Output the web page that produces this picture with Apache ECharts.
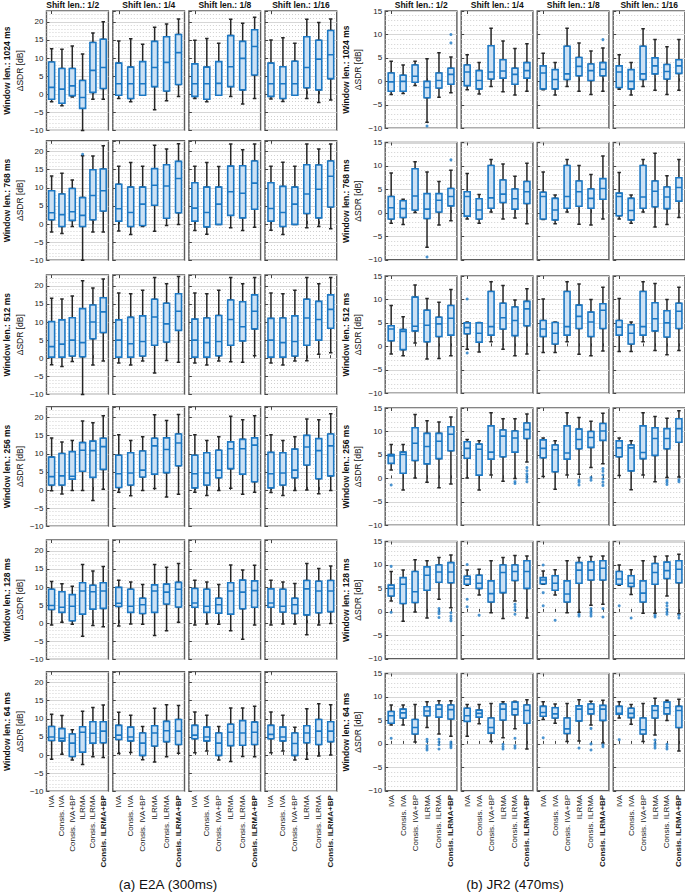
<!DOCTYPE html>
<html>
<head>
<meta charset="utf-8">
<script src="https://cdn.jsdelivr.net/npm/echarts@6/dist/echarts.min.js"></script>
<style>
html, body { margin: 0; padding: 0; background: #fff; }
#chart { width: 685px; height: 893px; }
</style>
</head>
<body>
<div id="chart"></div>
<script>
// box values: [min, q1, median, q3, max] per method, 4 shift lengths per window length
var methods = ['IVA', 'Consis. IVA', 'Consis. IVA+BP', 'ILRMA', 'Consis. ILRMA', 'Consis. ILRMA+BP'];
var shiftLens = ['1/2', '1/4', '1/8', '1/16'];
var windowLens = ['1024', '768', '512', '256', '128', '64'];

// (a) E2A
var e2a_w1024 = [
  [[-2.1,-1.4,1.9,8.9,12.6], [-3.2,-2.5,1.4,7.1,12.4], [-0.8,-0.4,2.3,7.1,13.3], [-10,-3.9,-0.9,3.8,11.1], [-1.4,0.5,6.6,14.3,16.9], [-1.4,1.6,7.4,15.2,20.0]],
  [[-1.2,-0.3,2.9,8.6,14.7], [-2.1,-1.2,2.9,7.5,15.3], [-0.3,-0.3,2.9,9.0,13.8], [-4.3,2.1,7.4,14.6,18.5], [-1.8,0.9,8.8,15.9,19.4], [-0.6,2.7,11.5,16.5,20.8]],
  [[-1.2,-0.6,2.9,8.4,14.9], [-2.1,-1.4,2.9,7.5,15.4], [-0.3,-0.3,3.0,9.0,14.1], [-0.6,2.1,7.6,16.2,20.7], [-2.7,1.2,9.9,14.6,19.6], [-1.2,5.3,13.2,17.8,21.3]],
  [[-1.3,-0.6,2.9,8.6,15.0], [-2.0,-1.2,2.9,7.6,15.6], [-0.3,-0.3,2.9,9.1,14.1], [-1.2,1.8,7.4,15.9,20.7], [-2.3,1.2,9.7,14.9,19.8], [-1.6,4.3,10.9,17.6,20.8]]
];
var e2a_w768 = [
  [[-2.2,1.2,3.1,9.2,13.3], [-2.6,-0.7,2.6,8.3,14.0], [-0.7,1.0,3.4,9.8,12.2], [-10,-0.7,2.4,7.3,18.9], [-2.2,1.2,7.9,15.0,18.8], [-2.2,3.6,9.2,15.2,21.6]],
  [[-1.9,0.8,4.2,11.0,16.0], [-2.9,-0.7,3.2,10.2,17.0], [-0.7,-0.4,5.5,10.2,16.0], [-2.0,5.2,10.7,15.3,21.8], [-0.4,1.6,10.5,16.4,20.7], [-0.1,3.1,12.6,17.3,22.2]],
  [[-1.8,0.8,4.4,11.4,16.0], [-2.8,-0.8,3.2,10.2,17.0], [-0.1,-0.1,5.5,10.2,15.9], [-1.0,2.4,8.9,16.0,22.1], [-1.8,1.7,8.5,16.1,20.5], [-0.9,4.1,11.3,17.4,22.1]],
  [[-1.7,0.8,4.3,11.4,16.0], [-2.9,-0.7,3.2,10.4,17.1], [-0.1,-0.1,5.5,10.2,16.0], [-1.0,2.9,8.3,16.4,22.1], [-0.7,1.7,9.6,16.3,20.7], [-1.3,4.7,13.2,17.4,22.1]]
];
var e2a_w512 = [
  [[-1.8,0.3,3.2,10.1,16.6], [-2.3,0.3,3.9,10.6,16.4], [-0.9,0.6,5.0,11.2,17.2], [-10,0.4,4.3,13.7,21.4], [-1.9,5.4,10.0,14.7,19.4], [-0.8,7.1,12.8,16.7,21.9]],
  [[-1.3,0.3,5.0,10.6,18.0], [-1.9,0.3,4.0,11.3,17.8], [-0.8,0.6,4.6,11.7,18.8], [-4.1,3.6,11.4,16.3,22.3], [-0.6,4.5,9.5,15.2,20.6], [-1.1,7.7,13.0,17.8,22.6]],
  [[-1.3,0.3,5.0,10.8,18.0], [-1.9,0.3,4.3,11.1,17.8], [-0.8,0.7,4.6,11.8,18.8], [-1.0,3.6,10.7,16.1,22.3], [-1.1,4.8,8.7,15.6,20.6], [0.7,8.1,13.0,17.5,22.3]],
  [[-1.3,0.3,5.0,11.0,18.0], [-1.9,0.3,4.3,11.1,17.8], [-0.8,0.6,4.6,11.7,18.8], [-0.7,3.6,11.1,16.3,22.3], [1.1,5.0,10.7,15.7,20.6], [1.5,8.3,13.5,17.5,22.3]]
];
var e2a_w256 = [
  [[-0.2,1.4,3.7,9.1,14.4], [-1.1,1.4,3.9,10.1,13.3], [-0.1,3.0,3.8,10.6,13.7], [-0.1,5.2,11.0,13.1,19.1], [-2.9,3.5,10.9,13.5,18.6], [0.2,5.7,12.0,14.3,20.5]],
  [[-0.6,0.7,4.5,9.6,15.3], [-1.6,1.4,4.7,10.3,13.7], [-0.1,3.6,5.5,10.8,14.7], [0.4,4.4,12.2,14.3,20.8], [-1.9,4.8,11.2,14.4,19.2], [-1.2,6.7,13.0,15.5,20.9]],
  [[-0.6,0.6,4.5,9.6,15.3], [-1.5,1.4,4.7,10.3,13.7], [-0.1,3.4,5.5,11.0,14.7], [0.5,5.9,11.4,13.3,20.4], [-1.2,4.4,11.4,14.0,19.4], [-0.6,2.3,12.4,14.4,20.5]],
  [[-0.7,0.6,4.5,10.4,15.3], [-1.5,1.4,4.7,10.3,13.7], [-0.1,3.4,5.5,11.3,14.7], [0.0,6.9,11.9,15.1,19.6], [-1.0,3.1,10.9,14.2,19.4], [-0.1,3.9,12.2,15.5,21.1]]
];
var e2a_w128 = [
  [[-0.5,3.8,4.9,9.4,11.5], [0.3,3.0,4.4,8.7,10.9], [-0.3,0.7,4.7,7.9,10.2], [-3.6,2.5,8.9,11.2,16.2], [-0.6,3.9,8.7,10.5,14.4], [-1.0,4.1,8.9,11.2,15.7]],
  [[-0.8,4.6,5.5,9.9,11.9], [-0.2,3.0,4.7,9.4,11.4], [-0.3,2.7,5.1,6.9,10.7], [-3.4,3.0,8.9,10.6,16.2], [-2.1,5.3,8.6,10.8,15.5], [0.3,4.5,9.4,11.3,16.5]],
  [[-0.5,4.4,5.6,9.6,11.9], [-0.2,3.0,4.7,9.4,11.4], [-0.3,2.8,5.1,6.9,10.7], [-2.1,2.5,8.9,11.2,16.1], [-4.4,4.0,8.6,11.9,14.7], [-0.5,4.4,9.0,11.7,16.0]],
  [[-0.5,4.4,5.6,9.5,11.9], [-0.2,3.1,4.7,9.4,11.4], [-0.2,2.7,5.1,6.9,11.0], [-3.2,2.3,9.5,11.8,16.5], [-0.5,2.9,8.9,11.6,15.1], [-0.1,3.2,8.9,11.8,15.8]]
];
var e2a_w64 = [
  [[-1.2,4.0,5.0,7.9,11.3], [0.2,3.9,4.6,7.3,10.9], [-1.4,-0.4,3.3,5.8,7.0], [-2.6,0.8,6.3,7.8,12.1], [-0.5,3.3,6.0,9.2,13.1], [-0.7,3.4,6.6,9.2,13.8]],
  [[0.4,4.3,5.5,8.2,11.8], [0.7,3.9,5.0,7.7,11.0], [-1.3,-0.1,3.3,6.1,7.9], [-1.9,2.5,6.1,8.1,12.9], [-0.5,3.7,6.7,9.3,13.9], [0.5,2.9,6.6,9.8,13.7]],
  [[0.6,4.5,5.5,8.2,11.9], [1.1,3.9,5.0,7.7,11.0], [-1.4,-0.1,3.3,6.1,7.9], [-1.8,2.6,6.3,8.5,13.0], [-0.4,2.7,6.1,9.5,13.0], [-0.5,2.9,6.3,9.1,13.5]],
  [[0.6,4.5,5.7,8.2,11.9], [1.1,3.9,5.0,7.7,11.0], [-1.4,-0.1,3.2,6.1,7.7], [-1.2,3.4,6.1,8.1,12.8], [-0.3,2.9,6.6,9.8,14.2], [0.0,3.7,6.6,9.2,13.9]]
];
// outliers: [window index, shift index, method index, value]
var e2aOutliers = [[1, 0, 3, 19.3]];

// (b) JR2
var jr2_w1024 = [
  [[-2.8,-2.1,-0.1,1.8,4.3], [-2.6,-2.1,0.0,1.3,3.5], [-0.9,-0.2,1.1,3.5,4.3], [-8.7,-3.5,-1.3,0.0,4.8], [-3.4,-1.4,0.2,1.8,6.1], [-2.4,-0.6,1.5,2.8,5.2]],
  [[-1.8,-0.9,2.0,3.5,5.7], [-2.7,-1.6,0.2,2.3,4.0], [-1.1,0.5,2.0,7.6,11.3], [-2.2,0.7,2.2,4.6,8.6], [-2.9,-0.6,1.5,2.8,7.0], [-2.1,0.7,2.3,4.0,8.0]],
  [[-1.8,-1.6,1.8,3.3,6.0], [-2.9,-1.6,0.4,2.5,4.0], [-1.1,0.4,1.6,7.5,11.3], [-2.1,1.2,3.2,5.1,8.2], [-2.8,0.2,2.3,3.7,6.5], [-2.1,1.2,2.6,4.0,7.1]],
  [[-1.7,-1.3,2.0,3.3,5.7], [-2.9,-1.6,0.0,2.5,4.0], [-1.1,0.4,1.6,7.5,11.2], [-1.9,1.6,3.3,5.0,8.9], [-2.8,0.5,2.1,3.6,7.4], [-1.9,1.7,3.3,4.6,8.9]]
];
var jr2_w768 = [
  [[-2.2,-1.3,1.1,3.5,8.5], [-2.5,-1.0,0.9,2.6,2.9], [0.1,0.6,3.6,9.4,10.9], [-7.3,-1.2,0.8,4.1,8.7], [-2.6,0.2,2.7,4.1,6.7], [-1.7,1.5,3.5,5.2,9.1]],
  [[-1.3,-0.7,3.5,4.5,8.4], [-2.2,-1.3,0.6,3.0,3.9], [0.2,1.0,3.2,10.1,11.4], [-1.3,2.2,4.0,7.0,10.4], [-1.1,0.8,3.0,5.1,7.8], [-2.3,2.0,4.5,6.7,10.6]],
  [[-1.4,-1.3,3.5,4.4,8.7], [-2.3,-1.5,0.6,3.1,3.8], [0.2,1.0,3.5,10.1,11.4], [-2.4,1.4,4.5,6.8,10.1], [-2.6,1.0,3.1,5.1,8.2], [-1.3,2.9,5.2,7.3,12.1]],
  [[-1.3,-0.6,3.5,4.2,8.6], [-2.2,-1.5,0.5,3.1,3.8], [0.2,1.0,3.4,10.1,11.4], [-3.0,1.3,4.6,6.8,12.7], [-2.5,0.9,3.4,5.5,7.9], [-1.0,2.5,5.4,7.5,11.4]]
];
var jr2_w512 = [
  [[-1.6,1.2,3.7,4.4,8.7], [-2.0,-0.7,3.2,3.6,6.3], [0.7,3.3,4.3,10.5,13.1], [-2.7,1.0,4.5,7.7,10.2], [-2.6,2.1,4.8,6.2,9.4], [-2.0,2.4,6.0,8.7,12.1]],
  [[-0.6,2.7,4.0,5.0,5.2], [-1.2,0.9,2.8,5.0,5.1], [1.0,2.4,4.2,11.7,13.8], [-0.6,3.7,6.1,9.2,13.0], [-2.0,2.3,5.5,8.4,9.9], [-1.6,4.4,8.0,9.6,12.3]],
  [[-1.3,2.1,3.7,5.5,10.1], [-1.3,0.5,2.8,5.1,5.2], [1.0,2.4,4.2,11.7,13.8], [-1.7,3.8,6.4,8.8,13.3], [-2.0,2.1,5.2,7.3,10.0], [-1.0,3.8,7.7,9.1,12.6]],
  [[-1.1,2.4,4.1,5.5,10.2], [-1.1,0.5,2.8,4.6,5.2], [1.0,2.4,4.2,11.7,13.8], [-0.9,3.3,5.9,9.3,13.4], [-1.8,2.0,5.0,7.6,10.0], [-0.9,3.8,7.5,9.2,12.6]]
];
var jr2_w256 = [
  [[1.8,3.2,4.8,5.1,7.2], [-2.5,1.1,5.1,5.6,7.2], [0.1,3.8,7.5,10.8,13.6], [-0.8,3.1,6.8,9.6,12.3], [-2.0,4.2,7.9,9.6,12.0], [-1.2,5.9,9.4,11.0,13.1]],
  [[0.1,4.3,6.4,7.8,8.3], [-2.5,0.7,6.2,7.3,8.0], [0.7,4.1,5.6,11.2,14.0], [-0.6,4.6,9.0,10.3,12.7], [0.0,5.6,8.6,10.1,12.7], [3.5,8.5,10.4,11.8,13.7]],
  [[0.4,4.4,6.4,8.2,8.6], [-2.3,1.4,6.1,7.1,8.0], [0.7,4.1,5.4,11.2,14.0], [0.9,6.3,8.3,10.5,13.0], [2.3,6.6,8.7,10.0,12.2], [3.1,8.1,10.1,11.7,13.9]],
  [[0.6,4.6,6.5,8.0,8.6], [-2.4,1.6,6.5,7.1,8.0], [0.7,4.2,5.5,11.2,14.0], [-0.7,4.9,8.5,10.8,13.2], [0.2,6.3,8.5,10.6,12.8], [0.3,7.7,10.6,12.7,14.4]]
];
var jr2_w128 = [
  [[2.3,3.4,5.0,5.7,8.6], [-2.0,1.8,5.9,7.3,8.9], [0.0,2.0,4.3,8.6,11.1], [-1.3,4.6,7.8,9.6,10.9], [2.7,6.3,8.5,10.0,11.6], [0.9,6.2,8.5,10.5,12.1]],
  [[5.7,5.9,7.0,7.6,8.9], [3.6,5.0,6.1,7.8,9.1], [-0.2,2.1,3.9,6.6,10.9], [-1.4,4.1,8.4,10.0,11.6], [2.3,6.7,8.6,10.0,12.0], [-1.3,5.0,8.6,10.9,11.9]],
  [[5.9,6.0,6.8,7.3,8.7], [3.6,4.6,6.1,7.7,9.0], [-0.2,2.1,3.8,6.6,10.9], [-0.1,6.1,8.9,10.5,11.6], [1.4,6.8,8.9,10.7,11.8], [1.6,6.8,9.3,10.9,11.9]],
  [[5.7,5.9,7.0,8.6,10.0], [3.7,5.4,6.1,7.7,9.0], [-0.3,2.1,4.0,6.6,10.9], [-0.3,5.9,8.4,10.3,11.8], [3.4,7.1,8.8,10.6,11.9], [-0.4,6.2,9.1,10.9,12.3]]
];
var jr2_w64 = [
  [[4.0,4.4,6.0,6.9,8.3], [4.0,5.5,6.6,7.4,8.3], [0.4,2.1,3.5,5.2,8.4], [3.5,6.0,7.0,7.9,9.0], [2.1,5.7,7.4,8.3,9.2], [1.6,5.3,7.3,8.3,9.2]],
  [[1.6,4.8,6.0,7.6,8.4], [4.3,5.7,6.5,7.2,8.4], [0.5,2.3,3.5,5.5,8.6], [1.3,5.1,7.4,8.5,9.0], [3.2,6.2,7.4,8.9,9.1], [-1.1,4.4,7.1,8.3,9.4]],
  [[5.2,5.9,6.7,8.0,9.0], [4.4,5.5,6.4,7.7,8.5], [0.5,2.2,3.2,5.5,8.6], [0.6,4.9,7.4,8.1,9.4], [4.0,6.4,7.4,8.5,9.1], [0.2,5.0,7.4,8.2,9.3]],
  [[5.5,6.3,6.5,8.0,9.0], [4.2,5.6,6.5,7.6,8.4], [0.5,2.1,3.0,5.5,8.6], [1.9,5.5,7.1,8.1,9.7], [5.0,6.4,7.7,8.9,9.3], [-1.5,3.5,7.1,8.0,9.5]]
];
var jr2Outliers = [
  [0,0,3,-9.5], [0,0,5,10.0], [0,0,5,8.2], [0,2,5,8.9],
  [1,0,3,-9.4], [1,0,5,11.3],
  [2,1,0,10.1], [2,1,0,-1.4],
  [3,0,0,-1.4], [3,1,4,-0.7], [3,1,4,-1.1],
  [3,1,5,2.3], [3,1,5,1.6], [3,1,5,0.9], [3,1,5,0.4], [3,1,5,-0.1], [3,1,5,-0.7],
  [3,2,3,-0.4], [3,2,3,-0.8], [3,2,3,-1.4], [3,2,4,0.2], [3,2,4,-0.4],
  [3,2,5,2.1], [3,2,5,1.5], [3,2,5,0.7], [3,2,5,-0.1], [3,2,5,-0.8], [3,2,5,-1.5],
  [3,3,4,-0.4], [3,3,4,-0.8], [3,3,4,-1.3], [3,3,5,-0.3], [3,3,5,-0.7],
  [4,0,0,9.7], [4,0,0,-0.1], [4,0,4,0.7], [4,0,4,0.1], [4,0,4,-0.4], [4,0,4,-1.2],
  [4,0,5,-0.2], [4,0,5,-0.9], [4,0,5,-1.4], [4,0,5,-1.9],
  [4,1,0,10.1], [4,1,0,2.7], [4,1,0,1.1], [4,1,1,-0.7],
  [4,1,4,1.6], [4,1,4,1.0], [4,1,4,0.4], [4,1,4,-0.5],
  [4,2,0,10.0], [4,2,0,4.1], [4,2,0,1.3], [4,2,1,-1.8], [4,2,3,-0.5], [4,2,3,-0.9],
  [4,2,4,0.7], [4,2,4,0.1], [4,2,4,-0.4], [4,2,4,-0.9], [4,2,5,0.7], [4,2,5,-1.1],
  [4,3,0,1.3], [4,3,1,-1.3], [4,3,3,-0.7], [4,3,3,-1.1],
  [4,3,4,1.9], [4,3,4,1.3], [4,3,4,0.6], [4,3,4,0.0], [4,3,4,-0.5], [4,3,5,-0.7], [4,3,5,-1.3],
  [5,0,0,1.2], [5,0,3,1.0], [5,0,3,0.5], [5,0,3,-0.4], [5,0,3,-0.9], [5,0,3,-1.3],
  [5,0,4,1.0], [5,0,4,0.4], [5,0,4,-0.2], [5,0,4,-1.1],
  [5,0,5,0.4], [5,0,5,0.0], [5,0,5,-0.4], [5,0,5,-0.8],
  [5,1,3,-0.1], [5,1,3,-0.6], [5,1,3,-1.1], [5,1,4,1.2], [5,1,4,-0.4], [5,1,4,-0.9],
  [5,2,0,1.3], [5,2,3,-0.9], [5,2,4,3.3], [5,2,4,0.0], [5,2,4,-1.3], [5,2,5,-0.2], [5,2,5,-0.6],
  [5,3,0,0.9], [5,3,3,0.8], [5,3,3,0.1], [5,3,3,-0.4], [5,3,3,-0.9],
  [5,3,4,-0.1], [5,3,4,-0.6], [5,3,4,-1.1]
];

var e2aRows = [e2a_w1024, e2a_w768, e2a_w512, e2a_w256, e2a_w128, e2a_w64];
var jr2Rows = [jr2_w1024, jr2_w768, jr2_w512, jr2_w256, jr2_w128, jr2_w64];

var FONT = '"Liberation Sans", Arial, Helvetica, sans-serif';
var BLUE = '#1c78c4';
var FILL = '#cce1f4';

var panels = [
  {rows: e2aRows, outliers: e2aOutliers, ymax: 23, left: 36.7, step: 76.1,
   tops: [11, 140.8, 275, 406.8, 540, 671.8], height: 119.4,
   caption: '(a) E2A (300ms)', captionX: 168},
  {rows: jr2Rows, outliers: jr2Outliers, ymax: 15, left: 385.2, step: 76.0,
   tops: [11, 142.5, 276, 408, 541.5, 673.5], height: 117.3,
   caption: '(b) JR2 (470ms)', captionX: 515}
];

var categoryData = methods.map(function (m, i) {
  return i === methods.length - 1 ? {value: m, textStyle: {fontWeight: 'bold'}} : m;
});

var option = {
  animation: false,
  textStyle: {fontFamily: FONT},
  grid: [], xAxis: [], yAxis: [], series: [], graphic: []
};

panels.forEach(function (p) {
  for (var r = 0; r < 6; r++) {
    for (var c = 0; c < 4; c++) {
      var g = option.grid.length;
      var boxes = p.rows[r][c];
      var left = p.left + p.step * c;
      option.grid.push({
        left: left, top: p.tops[r], width: 71.7, height: p.height,
        show: true, borderColor: '#5c5c5c', borderWidth: 1.4,
        backgroundColor: 'transparent', containLabel: false
      });
      var tick = {show: true, inside: true, length: 3, alignWithLabel: true,
                  lineStyle: {color: '#444', width: 1}};
      option.xAxis.push({
        type: 'category', gridIndex: g, position: 'bottom', data: categoryData,
        boundaryGap: true, axisLine: {show: false}, axisTick: tick,
        splitLine: {show: false},
        axisLabel: {show: r === 5, rotate: 90, interval: 0, fontSize: 8,
                    color: '#1a1a1a', margin: 4, fontFamily: FONT}
      });
      option.xAxis.push({
        type: 'category', gridIndex: g, position: 'top', data: methods,
        boundaryGap: true, axisLine: {show: false}, axisTick: tick,
        splitLine: {show: false}, axisLabel: {show: false}
      });
      option.yAxis.push({
        type: 'value', gridIndex: g, min: -10, max: p.ymax, interval: 5,
        axisLine: {show: false},
        axisTick: {show: true, inside: true, length: 3, lineStyle: {color: '#444'}},
        axisLabel: {show: c === 0, fontSize: 8, color: '#1a1a1a', margin: 3,
                    showMaxLabel: p.ymax % 5 === 0,
                    formatter: function (v) { return String(v).replace('-', '\u2212'); }},
        splitLine: {show: true, lineStyle: {color: '#d6d6d6', width: 1}},
        minorTick: {show: false, splitNumber: 5},
        minorSplitLine: {show: true, lineStyle: {color: '#c4c4c4', width: 0.8, type: [1, 2]}},
        name: c === 0 ? '{b|Window len.: ' + windowLens[r] + ' ms}\n{n|\u0394SDR [dB]}' : '',
        nameLocation: 'middle', nameRotate: 90, nameGap: 15,
        nameTextStyle: {
          color: '#111', lineHeight: 12.5,
          rich: {
            b: {fontWeight: 'bold', fontSize: 8.5, lineHeight: 12.5, color: '#111', fontFamily: FONT},
            n: {fontSize: 8.5, lineHeight: 12.5, color: '#111', fontFamily: FONT}
          }
        }
      });
      // whiskers (black), drawn under the boxes
      option.series.push({
        type: 'boxplot', xAxisIndex: 2 * g + 1, yAxisIndex: g, silent: true, z: 2,
        boxWidth: [3.5, 3.5], data: boxes,
        itemStyle: {color: '#ffffff', borderColor: '#262626', borderWidth: 1.5},
        emphasis: {disabled: true}
      });
      // boxes (blue) with median
      option.series.push({
        type: 'boxplot', xAxisIndex: 2 * g, yAxisIndex: g, silent: true, z: 3,
        boxWidth: [6, 6],
        data: boxes.map(function (b) { return [b[1], b[1], b[2], b[3], b[3]]; }),
        itemStyle: {color: FILL, borderColor: BLUE, borderWidth: 1.6},
        emphasis: {disabled: true}
      });
      var pts = p.outliers.filter(function (o) { return o[0] === r && o[1] === c; })
        .map(function (o) { return [o[2], o[3]]; });
      if (pts.length) {
        option.series.push({
          type: 'scatter', xAxisIndex: 2 * g, yAxisIndex: g, silent: true, z: 4,
          symbol: 'circle', symbolSize: 3, data: pts,
          itemStyle: {color: BLUE}
        });
      }
      if (r === 0) {
        option.graphic.push({
          type: 'text', x: left + 36, y: 4.5, silent: true,
          style: {text: 'Shift len.: ' + shiftLens[c], fill: '#111',
                  font: 'bold 8.5px ' + FONT,
                  textAlign: 'center', align: 'center',
                  textVerticalAlign: 'middle', verticalAlign: 'middle'}
        });
      }
    }
  }
  option.graphic.push({
    type: 'text', x: p.captionX, y: 884, silent: true,
    style: {text: p.caption, fill: '#111', font: '13.5px ' + FONT,
            textAlign: 'center', align: 'center',
            textVerticalAlign: 'middle', verticalAlign: 'middle'}
  });
});

var myChart = echarts.init(document.getElementById('chart'), null, {renderer: 'svg'});
myChart.setOption(option);
</script>
</body>
</html>
